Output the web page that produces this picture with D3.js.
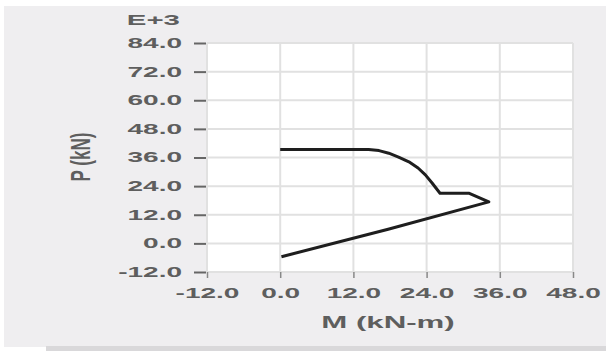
<!DOCTYPE html>
<html>
<head>
<meta charset="utf-8">
<script src="https://cdn.jsdelivr.net/npm/d3@7"></script>
<style>
  html, body { margin: 0; padding: 0; background: #ffffff; }
  svg { display: block; font-family: "Liberation Sans", Arial, sans-serif; }
</style>
</head>
<body>
<svg id="chart" width="606" height="351"></svg>
<script>
// ---- data ----
const momentValues = [0, 14.5, 16.2, 17.8, 19.4, 21.1, 22.6, 23.8, 24.9, 26.2, 31.0, 34.2, 17.7, 0.2];
const axialValues  = [39.4, 39.4, 38.9, 37.8, 36.2, 34.2, 31.6, 28.7, 25.3, 21.0, 21.0, 17.4, 5.9, -5.6];
const xTickValues = [-12, 0, 12, 24, 36, 48];
const yTickValues = [-12, 0, 12, 24, 36, 48, 60, 72, 84];
const xAxisTitle = "M  (kN-m)";
const yAxisTitle = "P (kN)";
const exponentLabel = "E+3";

const svg = d3.select("#chart");
const W = 606, H = 351;
const plot = { left: 207, right: 573, top: 43, bottom: 272 };
const fmt = d => d.toFixed(1);

// background panel
svg.append("rect").attr("x", 0).attr("y", 0).attr("width", W).attr("height", H).attr("fill", "#ffffff");
svg.append("rect").attr("x", 4).attr("y", 6).attr("width", W - 4).attr("height", 341).attr("fill", "#efeef0");
svg.append("rect").attr("x", 46).attr("y", 346).attr("width", W - 46).attr("height", 5).attr("fill", "#d9d8da");

const x = d3.scaleLinear().domain([-12, 48]).range([plot.left, plot.right]);
const y = d3.scaleLinear().domain([-12, 84]).range([plot.bottom, plot.top]);

// plot area
svg.append("rect")
  .attr("x", plot.left).attr("y", plot.top)
  .attr("width", plot.right - plot.left).attr("height", plot.bottom - plot.top)
  .attr("fill", "#ffffff");

// grid
const grid = svg.append("g").attr("stroke", "#e1e1e1").attr("stroke-width", 2);
grid.selectAll("line.v").data(xTickValues).join("line")
  .attr("x1", d => x(d)).attr("x2", d => x(d))
  .attr("y1", plot.top).attr("y2", plot.bottom);
grid.selectAll("line.h").data(yTickValues).join("line")
  .attr("x1", plot.left).attr("x2", plot.right)
  .attr("y1", d => y(d)).attr("y2", d => y(d));

function stretch(sel, factor) {
  sel.each(function () {
    const w = this.getComputedTextLength();
    d3.select(this).attr("textLength", w * factor).attr("lengthAdjust", "spacingAndGlyphs");
  });
}

// y axis
const yAxis = svg.append("g")
  .attr("transform", `translate(${plot.left - 1},0)`)
  .call(d3.axisLeft(y).tickValues(yTickValues).tickSize(12).tickPadding(12).tickFormat(fmt));
yAxis.select(".domain").remove();
yAxis.selectAll(".tick line").attr("stroke", "#666").attr("stroke-width", 2);
yAxis.selectAll(".tick text")
  .attr("fill", "#5e5e5e").attr("font-size", 14).attr("font-weight", "bold")
  .call(stretch, 2.0);

// x axis
const xAxis = svg.append("g")
  .attr("transform", `translate(0,${plot.bottom})`)
  .call(d3.axisBottom(x).tickValues(xTickValues).tickSize(6).tickPadding(10).tickFormat(fmt));
xAxis.select(".domain").remove();
xAxis.selectAll(".tick line").attr("stroke", "#888").attr("stroke-width", 1.5);
xAxis.selectAll(".tick text")
  .attr("fill", "#5e5e5e").attr("font-size", 14).attr("font-weight", "bold")
  .call(stretch, 2.0);

// exponent label
svg.append("text").attr("x", 180).attr("y", 25).attr("text-anchor", "end")
  .attr("fill", "#5e5e5e").attr("font-size", 14).attr("font-weight", "bold")
  .text(exponentLabel).call(stretch, 2.1);

// axis titles
svg.append("text").attr("x", 388).attr("y", 328).attr("text-anchor", "middle")
  .attr("fill", "#5e5e5e").attr("font-size", 16).attr("font-weight", "bold")
  .text(xAxisTitle).call(stretch, 1.95);

svg.append("text")
  .attr("transform", `translate(90,157) scale(1.6,1) rotate(-90)`)
  .attr("text-anchor", "middle")
  .attr("fill", "#5e5e5e").attr("font-size", 17).attr("font-weight", "bold")
  .text(yAxisTitle);

// interaction curve
const pts = momentValues.map((m, i) => [m, axialValues[i]]);
svg.append("path")
  .datum(pts)
  .attr("fill", "none")
  .attr("stroke", "#1e1e1e")
  .attr("stroke-width", 3)
  .attr("stroke-linejoin", "round")
  .attr("d", d3.line().x(d => x(d[0])).y(d => y(d[1])));
</script>
</body>
</html>
